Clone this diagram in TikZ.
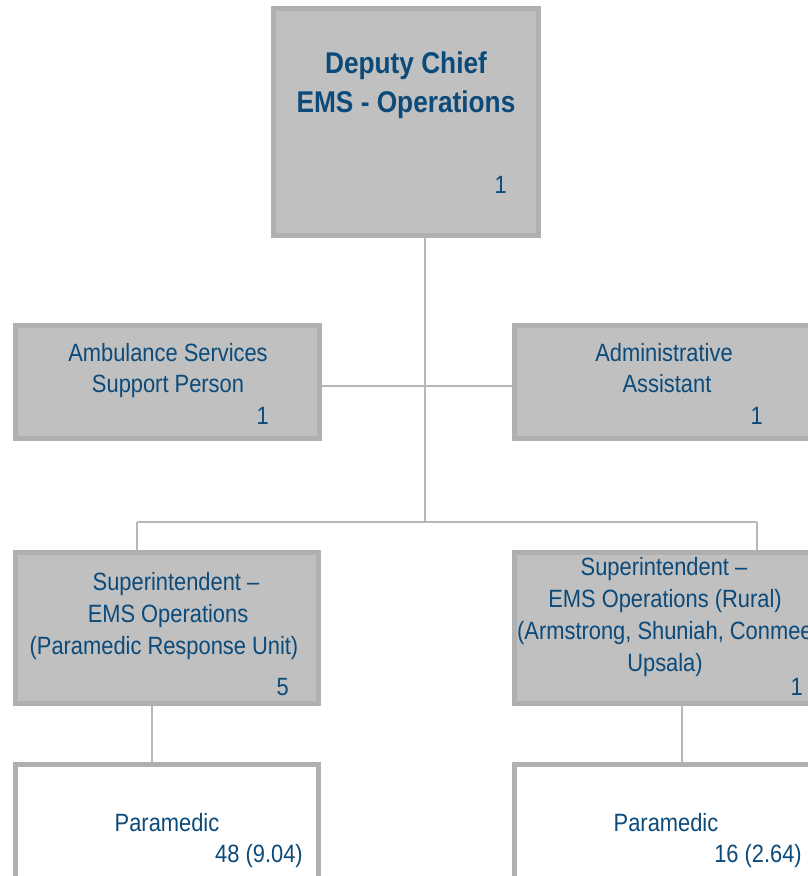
\documentclass[tikz,border=0pt]{standalone}
\usepackage{fontspec}
\setmainfont{Liberation Sans}[FakeStretch=0.875]
\definecolor{txtblue}{RGB}{12,74,122}
\definecolor{boxfill}{RGB}{192,192,192}
\definecolor{boxline}{RGB}{176,176,176}
\definecolor{conline}{RGB}{184,184,184}
\tikzset{
  orgbox/.style={draw=boxline, line width=5pt, fill=boxfill, rectangle, inner sep=0pt},
  whitebox/.style={orgbox, fill=white},
  lbl/.style={text=txtblue, font=\fontsize{25}{31}\selectfont, align=center, inner sep=0pt, anchor=base},
  num/.style={text=txtblue, font=\fontsize{25}{31}\selectfont, inner sep=0pt, anchor=base east},
  title/.style={text=txtblue, font=\bfseries\fontsize{30}{39}\selectfont, align=center, inner sep=0pt, anchor=base},
  conn/.style={draw=conline, line width=2pt}
}
\begin{document}
\begin{tikzpicture}[x=1pt, y=-1pt]
\useasboundingbox (0,0) rectangle (808,876);
% connector junctions
\coordinate (jmid) at (425,386);
\coordinate (jbar) at (425,522);
\coordinate (jl) at (137,522);
\coordinate (jr) at (757,522);
% boxes
\node[orgbox, minimum width=265pt, minimum height=227pt] (top) at (406,122) {};
\node[orgbox, minimum width=304pt, minimum height=113pt] (amb) at (167.5,382) {};
\node[orgbox, minimum width=303pt, minimum height=113pt] (adm) at (666,382) {};
\node[orgbox, minimum width=303pt, minimum height=151pt] (supl) at (167,628) {};
\node[orgbox, minimum width=303pt, minimum height=151pt] (supr) at (666,628) {};
\node[whitebox, minimum width=303pt, minimum height=140pt] (paral) at (167,834) {};
\node[whitebox, minimum width=303pt, minimum height=140pt] (parar) at (666,834) {};
% connectors
\draw[conn] (top.south -| jmid) -- (jbar);
\draw[conn] (amb.east |- jmid) -- (adm.west |- jmid);
\draw[conn] (jl) -- (jr);
\draw[conn] (jl) -- (jl |- supl.north);
\draw[conn] (jr) -- (jr |- supr.north);
\draw[conn] (supl.south -| 152,0) -- (paral.north -| 152,0);
\draw[conn] (supr.south -| 682,0) -- (parar.north -| 682,0);
% texts
\node[title] (t1) at (406,73) {Deputy Chief};
\node[title] (t2) at (406,112) {EMS - Operations};
\node[num] (t3) at (507,193) {1};
\node[lbl] (a1) at (168,361) {Ambulance Services};
\node[lbl] (a2) at (168,392) {Support Person};
\node[num] (a3) at (269,424) {1};
\node[lbl] (b1) at (664,361) {Administrative};
\node[lbl] (b2) at (667,392) {Assistant};
\node[num] (b3) at (763,424) {1};
\node[lbl] (c1) at (176,590) {Superintendent --};
\node[lbl] (c2) at (168,622) {EMS Operations};
\node[lbl] (c3) at (164,654) {(Paramedic Response Unit)};
\node[num] (c4) at (289,695) {5};
\node[lbl] (d1) at (664,575) {Superintendent --};
\node[lbl] (d2) at (665,607) {EMS Operations (Rural)};
\node[lbl, anchor=base west] (d3) at (517,639) {(Armstrong, Shuniah, Conmee,};
\node[lbl] (d4) at (665,671) {Upsala)};
\node[num] (d5) at (803,695) {1};
\node[lbl] (e1) at (167,831) {Paramedic};
\node[num] (e2) at (303,862) {48 (9.04)};
\node[lbl] (f1) at (666,831) {Paramedic};
\node[num] (f2) at (802,862) {16 (2.64)};
\end{tikzpicture}
\end{document}
